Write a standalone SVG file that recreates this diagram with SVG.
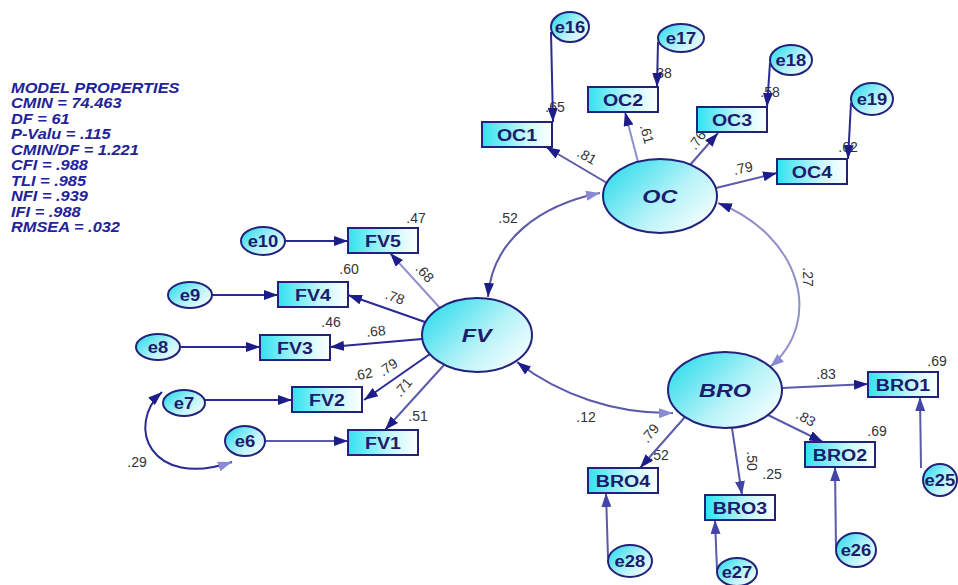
<svg xmlns="http://www.w3.org/2000/svg" width="958" height="585" viewBox="0 0 958 585">
<defs>
<linearGradient id="bg" x1="0" y1="0" x2="1" y2="0"><stop offset="0" stop-color="#2fe2f0"/><stop offset="0.6" stop-color="#c4f7fa"/><stop offset="1" stop-color="#ffffff"/></linearGradient>
<linearGradient id="eg" x1="0" y1="0.2" x2="1" y2="0.9"><stop offset="0" stop-color="#30dcec"/><stop offset="0.55" stop-color="#b8f3f8"/><stop offset="1" stop-color="#ffffff"/></linearGradient>
<marker id="ad" viewBox="0 0 14 10" refX="14" refY="5" markerWidth="14" markerHeight="10" markerUnits="userSpaceOnUse" orient="auto-start-reverse"><path d="M0,0 L14,5 L0,10 z" fill="#1c1c8a"/></marker>
<marker id="am" viewBox="0 0 14 10" refX="14" refY="5" markerWidth="14" markerHeight="10" markerUnits="userSpaceOnUse" orient="auto-start-reverse"><path d="M0,0 L14,5 L0,10 z" fill="#4444a6"/></marker>
<marker id="al" viewBox="0 0 14 10" refX="14" refY="5" markerWidth="14" markerHeight="10" markerUnits="userSpaceOnUse" orient="auto-start-reverse"><path d="M0,0 L14,5 L0,10 z" fill="#8a8ad4"/></marker>
</defs>
<style>
.box{fill:url(#bg);stroke:#22227a;stroke-width:2}
.ell{fill:url(#eg);stroke:#22227a;stroke-width:2}
.bt{font-family:"Liberation Sans",Arial,sans-serif;font-weight:bold;font-size:17px;fill:#1c1c6c;text-anchor:middle;transform-box:fill-box;transform-origin:center;transform:scaleX(1.15)}
.et{font-family:"Liberation Sans",Arial,sans-serif;font-weight:bold;font-size:16px;fill:#1c1c6c;text-anchor:middle;transform-box:fill-box;transform-origin:center;transform:scaleX(1.15)}
.lt{font-family:"Liberation Sans",Arial,sans-serif;font-weight:bold;font-style:italic;font-size:18px;fill:#1c1c6c;text-anchor:middle;transform-box:fill-box;transform-origin:center;transform:scaleX(1.3)}
.n{font-family:"Liberation Sans",Arial,sans-serif;font-size:14px;fill:#333333;text-anchor:middle}
.mp{font-family:"Liberation Sans",Arial,sans-serif;font-weight:bold;font-style:italic;font-size:14px;fill:#22229a}
.c{fill:none;stroke-width:2}
.d{stroke:#2a2a92}
.m{stroke:#5a5aaa}
.l{stroke:#9090c8}
</style>
<rect width="958" height="585" fill="#ffffff"/>

<g id="model-properties" transform="translate(11,0) scale(1.17,1)">
<text class="mp" x="0" y="93">MODEL PROPERTIES</text>
<text class="mp" x="0" y="108.5">CMIN = 74.463</text>
<text class="mp" x="0" y="124">DF = 61</text>
<text class="mp" x="0" y="139.5">P-Valu = .115</text>
<text class="mp" x="0" y="155">CMIN/DF = 1.221</text>
<text class="mp" x="0" y="170.5">CFI = .988</text>
<text class="mp" x="0" y="186">TLI = .985</text>
<text class="mp" x="0" y="201.5">NFI = .939</text>
<text class="mp" x="0" y="217">IFI = .988</text>
<text class="mp" x="0" y="232.5">RMSEA = .032</text>
</g>

<g id="labels">
<text class="n" x="555" y="112">.65</text>
<text class="n" x="662" y="78">.38</text>
<text class="n" x="770" y="97">.58</text>
<text class="n" x="848" y="152">.62</text>
<g transform="rotate(30 587 156)"><text class="n" x="587" y="161">.81</text></g>
<g transform="rotate(75 647 134)"><text class="n" x="647" y="139">.61</text></g>
<g transform="rotate(-55 697 140)"><text class="n" x="697" y="145">.76</text></g>
<g transform="rotate(-12 743 168)"><text class="n" x="743" y="173">.79</text></g>
<text class="n" x="508" y="223">.52</text>
<g transform="rotate(90 808 277)"><text class="n" x="808" y="282">.27</text></g>
<text class="n" x="586" y="422">.12</text>
<text class="n" x="826" y="379">.83</text>
<text class="n" x="937" y="366">.69</text>
<g transform="rotate(30 806 418)"><text class="n" x="806" y="423">.83</text></g>
<text class="n" x="877" y="436">.69</text>
<g transform="rotate(90 752 461)"><text class="n" x="752" y="466">.50</text></g>
<text class="n" x="772" y="479">.25</text>
<g transform="rotate(-50 650 433)"><text class="n" x="650" y="438">.79</text></g>
<text class="n" x="659" y="460">.52</text>
<text class="n" x="416" y="223">.47</text>
<g transform="rotate(48 425 273)"><text class="n" x="425" y="278">.68</text></g>
<text class="n" x="349" y="274">.60</text>
<g transform="rotate(20 395 297)"><text class="n" x="395" y="302">.78</text></g>
<text class="n" x="331" y="327">.46</text>
<g transform="rotate(-5 376 331)"><text class="n" x="376" y="336">.68</text></g>
<g transform="rotate(-10 363 374)"><text class="n" x="363" y="379">.62</text></g>
<g transform="rotate(-35 388 367)"><text class="n" x="388" y="372">.79</text></g>
<g transform="rotate(-50 403 387)"><text class="n" x="403" y="392">.71</text></g>
<text class="n" x="418" y="421">.51</text>
<text class="n" x="137" y="467">.29</text>
</g>

<g id="connectors">
<path class="c d" d="M551,32 L553,122" marker-end="url(#ad)"/>
<path class="c d" d="M658,42 L657,87" marker-end="url(#ad)"/>
<path class="c d" d="M770,63 L767,107" marker-end="url(#ad)"/>
<path class="c d" d="M851,103 L848,159" marker-end="url(#ad)"/>
<path class="c d" d="M285,241 L348,241" marker-end="url(#ad)"/>
<path class="c d" d="M212,295 L278,295" marker-end="url(#ad)"/>
<path class="c d" d="M180,347 L260,347" marker-end="url(#ad)"/>
<path class="c d" d="M205,400 L292,400" marker-end="url(#ad)"/>
<path class="c m" d="M265,441 L348,441" marker-end="url(#ad)"/>
<path class="c m" d="M921,468 L920,397" marker-end="url(#am)"/>
<path class="c m" d="M836,548 L835,467" marker-end="url(#am)"/>
<path class="c m" d="M717,570 L715,520" marker-end="url(#am)"/>
<path class="c m" d="M608,558 L606,493" marker-end="url(#am)"/>

<path class="c m" d="M607,183 L546,147" marker-end="url(#ad)"/>
<path class="c l" d="M638,162 L625,112" marker-end="url(#ad)"/>
<path class="c m" d="M690,165 L718,133" marker-end="url(#ad)"/>
<path class="c m" d="M716,188 L777,173" marker-end="url(#ad)"/>
<path class="c l" d="M440,308 L390,253" marker-end="url(#ad)"/>
<path class="c d" d="M425,322 L348,295" marker-end="url(#ad)"/>
<path class="c d" d="M422,339 L330,347" marker-end="url(#ad)"/>
<path class="c d" d="M430,354 L364,400" marker-end="url(#ad)"/>
<path class="c m" d="M444,365 L385,430" marker-end="url(#ad)"/>
<path class="c m" d="M782,388 L868,384" marker-end="url(#ad)"/>
<path class="c m" d="M768,415 L823,442" marker-end="url(#ad)"/>
<path class="c m" d="M732,428 L742,495" marker-end="url(#am)"/>
<path class="c m" d="M685,417 L640,468" marker-end="url(#ad)"/>

<path class="c m" d="M600,193 C540,205 492,240 488,297" marker-start="url(#al)" marker-end="url(#ad)"/>
<path class="c l" d="M718,203 C800,235 825,320 770,367" marker-start="url(#ad)" marker-end="url(#al)"/>
<path class="c m" d="M517,362 C560,395 615,414 673,413" marker-start="url(#ad)" marker-end="url(#al)"/>
<path class="c d" d="M162,392 C125,425 150,490 232,462" marker-start="url(#ad)" marker-end="url(#al)"/>
</g>

<g id="OC"><ellipse class="ell" cx="660" cy="196" rx="57" ry="37"/><text class="lt" x="660" y="203">OC</text></g>
<g id="FV"><ellipse class="ell" cx="477" cy="335" rx="55" ry="37"/><text class="lt" x="477" y="342">FV</text></g>
<g id="BRO"><ellipse class="ell" cx="725" cy="390" rx="57" ry="38"/><text class="lt" x="725" y="397">BRO</text></g>

<g id="OC1"><rect class="box" x="482" y="122" width="70" height="25"/><text class="bt" x="517" y="141">OC1</text></g>
<g id="OC2"><rect class="box" x="588" y="87" width="70" height="25"/><text class="bt" x="623" y="106">OC2</text></g>
<g id="OC3"><rect class="box" x="697" y="107" width="70" height="25"/><text class="bt" x="732" y="126">OC3</text></g>
<g id="OC4"><rect class="box" x="777" y="159" width="70" height="25"/><text class="bt" x="812" y="178">OC4</text></g>
<g id="FV5"><rect class="box" x="348" y="228" width="70" height="25"/><text class="bt" x="383" y="247">FV5</text></g>
<g id="FV4"><rect class="box" x="278" y="282" width="70" height="25"/><text class="bt" x="313" y="301">FV4</text></g>
<g id="FV3"><rect class="box" x="260" y="335" width="70" height="25"/><text class="bt" x="295" y="354">FV3</text></g>
<g id="FV2"><rect class="box" x="292" y="387" width="70" height="25"/><text class="bt" x="327" y="406">FV2</text></g>
<g id="FV1"><rect class="box" x="348" y="430" width="70" height="25"/><text class="bt" x="383" y="449">FV1</text></g>
<g id="BRO1"><rect class="box" x="868" y="372" width="70" height="25"/><text class="bt" x="903" y="391">BRO1</text></g>
<g id="BRO2"><rect class="box" x="805" y="442" width="70" height="25"/><text class="bt" x="840" y="461">BRO2</text></g>
<g id="BRO3"><rect class="box" x="705" y="495" width="70" height="25"/><text class="bt" x="740" y="514">BRO3</text></g>
<g id="BRO4"><rect class="box" x="588" y="468" width="70" height="25"/><text class="bt" x="623" y="487">BRO4</text></g>

<g id="e16"><ellipse class="ell" cx="570" cy="27" rx="19" ry="15"/><text class="et" x="570" y="33">e16</text></g>
<g id="e17"><ellipse class="ell" cx="681" cy="38" rx="23" ry="14"/><text class="et" x="681" y="44">e17</text></g>
<g id="e18"><ellipse class="ell" cx="791" cy="60" rx="21" ry="15"/><text class="et" x="791" y="66">e18</text></g>
<g id="e19"><ellipse class="ell" cx="872" cy="99" rx="21" ry="16"/><text class="et" x="872" y="105">e19</text></g>
<g id="e10"><ellipse class="ell" cx="263" cy="241" rx="22" ry="14"/><text class="et" x="263" y="247">e10</text></g>
<g id="e9"><ellipse class="ell" cx="190" cy="295" rx="22" ry="13"/><text class="et" x="190" y="301">e9</text></g>
<g id="e8"><ellipse class="ell" cx="158" cy="347" rx="22" ry="13"/><text class="et" x="158" y="353">e8</text></g>
<g id="e7"><ellipse class="ell" cx="184" cy="403" rx="21" ry="13"/><text class="et" x="184" y="409">e7</text></g>
<g id="e6"><ellipse class="ell" cx="245" cy="441" rx="20" ry="15"/><text class="et" x="245" y="447">e6</text></g>
<g id="e25"><ellipse class="ell" cx="940" cy="480" rx="17" ry="16"/><text class="et" x="940" y="486">e25</text></g>
<g id="e26"><ellipse class="ell" cx="856" cy="550" rx="20" ry="17"/><text class="et" x="856" y="556">e26</text></g>
<g id="e27"><ellipse class="ell" cx="737" cy="572" rx="20" ry="14"/><text class="et" x="737" y="578">e27</text></g>
<g id="e28"><ellipse class="ell" cx="630" cy="561" rx="22" ry="16"/><text class="et" x="630" y="567">e28</text></g>
</svg>
